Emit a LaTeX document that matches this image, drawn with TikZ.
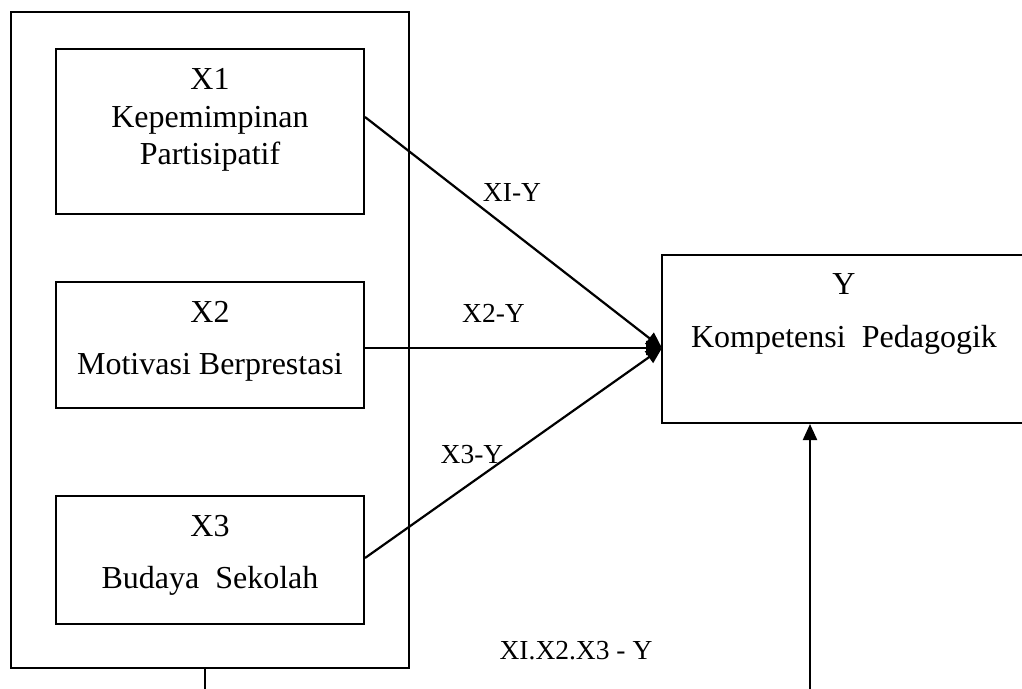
\documentclass[tikz,border=0pt]{standalone}
\usepackage{fontspec}
\setmainfont{Liberation Serif}
\usetikzlibrary{arrows.meta}

\tikzset{
  box/.style={draw, line width=2pt, rectangle, inner sep=0pt},
  txt/.style={anchor=base, inner sep=0pt, font=\fontsize{32}{38}\selectfont},
  lbl/.style={anchor=base, inner sep=0pt, font=\fontsize{27.5}{33}\selectfont},
  conn/.style={line width=2.2pt},
  arr/.style={line width=2.2pt, -{Triangle[length=16pt,width=14pt]}}
}

\begin{document}
\begin{tikzpicture}[x=1pt,y=-1pt]
\useasboundingbox (0,0) rectangle (1022,688);
\clip (0,0) rectangle (1022,688);

% outer frame around the three independent variables
\node[box, minimum width=398pt, minimum height=656pt] (outer) at (210,340) {};

% independent variables
\node[box, minimum width=308pt, minimum height=165pt] (x1) at (210,131.5) {};
\node[txt] (x1a) at (210,89) {X1};
\node[txt] (x1b) at (210,127) {Kepemimpinan};
\node[txt] (x1c) at (210,164) {Partisipatif};

\node[box, minimum width=308pt, minimum height=126pt] (x2) at (210,345) {};
\node[txt] (x2a) at (210,322) {X2};
\node[txt] (x2b) at (210,374) {Motivasi Berprestasi};

\node[box, minimum width=308pt, minimum height=128pt] (x3) at (210,560) {};
\node[txt] (x3a) at (210,536) {X3};
\node[txt] (x3b) at (210,588) {Budaya\hspace{0.5em}Sekolah};

% dependent variable (runs off the right edge)
\node[box, minimum width=398pt, minimum height=168pt] (y) at (861,339) {};
\node[txt] (ya) at (844,294) {Y};
\node[txt] (yb) at (844,347) {Kompetensi\hspace{0.5em}Pedagogik};

% partial paths
\coordinate (yin) at (662,348);
\draw[arr] ([yshift=14.5pt]x1.east) -- (yin);
\draw[arr] ([yshift=-3pt]x2.east) -- (yin);
\draw[arr] ([yshift=2pt]x3.east) -- (yin);

\node[lbl] (l1) at (512,201) {XI-Y};
\node[lbl] (l2) at (493.5,322) {X2-Y};
\node[lbl] (l3) at (472,463) {X3-Y};

% simultaneous path
\coordinate (b1) at (205,692);
\coordinate (b2) at (810,692);
\draw[conn] (outer.south -| b1) -- (b1);
\draw[arr] (b2) -- (b2 |- y.south);
\node[lbl] (l4) at (576,659) {XI.X2.X3 - Y};
\end{tikzpicture}
\end{document}
